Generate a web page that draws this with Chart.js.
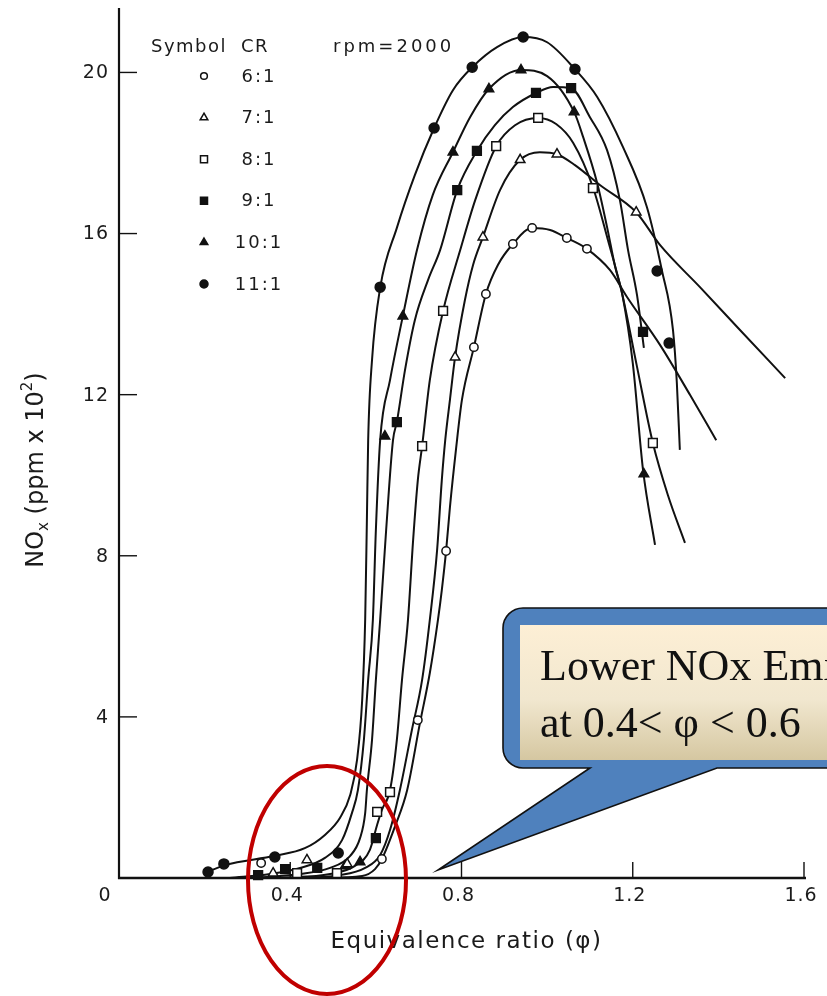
<!DOCTYPE html>
<html>
<head>
<meta charset="utf-8">
<script src="https://cdn.jsdelivr.net/npm/chart.js@4.4.1/dist/chart.umd.min.js"></script>
<style>
html,body{margin:0;padding:0;background:#fff;overflow:hidden}
canvas{display:block}
</style>
</head>
<body>
<canvas id="c" width="827" height="996"></canvas>
<script>
// ---------- axis ticks ----------
const phiTicks = [0, 0.4, 0.8, 1.2, 1.6];
const phiTickLabels = ['0', '0.4', '0.8', '1.2', '1.6'];
const noxTicks = [4, 8, 12, 16, 20];
const noxTickLabels = ['4', '8', '12', '16', '20'];
const compressionRatios = ['6:1', '7:1', '8:1', '9:1', '10:1', '11:1'];

// ---------- CR 6:1 (open circles) ----------
const cr6Phi = [0.332, 0.614, 0.698, 0.764, 0.829, 0.857, 0.920, 0.965, 1.046, 1.093];
const cr6Nox = [0.37, 0.47, 3.92, 8.12, 13.18, 14.50, 15.74, 16.14, 15.89, 15.62];
const cr6CurvePhi = [0.47, 0.568, 0.598, 0.614, 0.645, 0.673, 0.703, 0.726, 0.745, 0.754, 0.764, 0.773, 0.787, 0.801, 0.829, 0.857, 0.885, 0.920, 0.965, 1.007, 1.046, 1.093, 1.147, 1.187, 1.264, 1.334, 1.395];
const cr6CurveNox = [0.0, 0.05, 0.22, 0.47, 1.29, 2.18, 3.85, 5.09, 6.41, 7.15, 8.12, 9.21, 10.63, 11.87, 13.18, 14.50, 15.22, 15.74, 16.14, 16.09, 15.89, 15.62, 15.09, 14.42, 13.23, 11.99, 10.87];

// ---------- CR 7:1 (open triangles) ----------
const cr7Phi = [0.360, 0.439, 0.533, 0.785, 0.850, 0.937, 1.023, 1.208];
const cr7Nox = [0.12, 0.45, 0.35, 12.93, 15.91, 17.83, 17.97, 16.53];
const cr7CurvePhi = [0.423, 0.516, 0.575, 0.610, 0.633, 0.656, 0.684, 0.708, 0.726, 0.743, 0.754, 0.762, 0.773, 0.785, 0.808, 0.827, 0.850, 0.890, 0.937, 0.983, 1.023, 1.065, 1.124, 1.208, 1.264, 1.357, 1.451, 1.556];
const cr7CurveNox = [0, 0.07, 0.25, 0.57, 1.19, 2.18, 3.67, 4.92, 6.41, 8.14, 9.88, 10.87, 11.87, 12.93, 14.35, 15.22, 15.91, 17.08, 17.83, 18.02, 17.97, 17.70, 17.20, 16.53, 15.71, 14.67, 13.60, 12.41];

// ---------- CR 8:1 (open squares) ----------
const cr8Phi = [0.416, 0.509, 0.603, 0.633, 0.708, 0.757, 0.881, 0.979, 1.107, 1.247];
const cr8Nox = [0.12, 0.12, 1.64, 2.13, 10.72, 14.08, 18.17, 18.87, 17.13, 10.80];
const cr8CurvePhi = [0.376, 0.493, 0.551, 0.586, 0.603, 0.614, 0.633, 0.649, 0.661, 0.675, 0.687, 0.698, 0.708, 0.726, 0.757, 0.797, 0.832, 0.881, 0.925, 0.979, 1.021, 1.061, 1.107, 1.142, 1.175, 1.210, 1.247, 1.282, 1.322];
const cr8CurveNox = [0, 0.10, 0.30, 0.70, 1.32, 1.69, 2.18, 3.43, 4.92, 6.41, 8.39, 9.88, 10.72, 12.36, 14.08, 15.59, 16.83, 18.17, 18.69, 18.87, 18.72, 18.25, 17.15, 15.84, 14.52, 12.69, 10.80, 9.51, 8.32];

// ---------- CR 9:1 (filled squares) ----------
const cr9Phi = [0.325, 0.388, 0.463, 0.600, 0.649, 0.790, 0.836, 0.974, 1.056, 1.224];
const cr9Nox = [0.07, 0.22, 0.25, 0.99, 11.32, 17.08, 18.05, 19.49, 19.61, 13.56];
const cr9CurvePhi = [0.306, 0.423, 0.493, 0.540, 0.563, 0.575, 0.579, 0.591, 0.600, 0.610, 0.624, 0.640, 0.649, 0.668, 0.691, 0.722, 0.750, 0.790, 0.836, 0.878, 0.920, 0.974, 1.014, 1.056, 1.100, 1.140, 1.170, 1.189, 1.210, 1.226];
const cr9CurveNox = [0, 0.10, 0.25, 0.55, 0.99, 1.61, 2.18, 3.43, 4.92, 6.41, 8.64, 10.87, 11.32, 12.61, 13.85, 14.85, 15.59, 17.08, 18.05, 18.69, 19.14, 19.49, 19.64, 19.61, 18.89, 18.07, 16.83, 15.59, 14.47, 13.16];

// ---------- CR 10:1 (filled triangles) ----------
const cr10Phi = [0.528, 0.563, 0.621, 0.663, 0.780, 0.864, 0.939, 1.063, 1.226];
const cr10Nox = [0.30, 0.40, 10.97, 13.95, 18.02, 19.59, 20.06, 19.02, 10.03];
const cr10CurvePhi = [0.259, 0.353, 0.423, 0.481, 0.521, 0.544, 0.558, 0.572, 0.582, 0.593, 0.600, 0.610, 0.633, 0.663, 0.696, 0.733, 0.780, 0.820, 0.864, 0.939, 1.000, 1.063, 1.084, 1.117, 1.140, 1.159, 1.175, 1.200, 1.224, 1.252];
const cr10CurveNox = [0, 0.10, 0.25, 0.50, 0.94, 1.61, 2.18, 3.43, 4.92, 6.41, 8.64, 10.87, 12.36, 13.95, 15.59, 16.96, 18.02, 18.89, 19.59, 20.06, 19.91, 19.02, 18.40, 17.25, 16.16, 15.17, 14.52, 12.79, 10.13, 8.27];

// ---------- CR 11:1 (filled circles) ----------
const cr11Phi = [0.208, 0.245, 0.364, 0.512, 0.610, 0.736, 0.825, 0.944, 1.065, 1.257, 1.285];
const cr11Nox = [0.15, 0.35, 0.52, 0.62, 14.67, 18.62, 20.13, 20.88, 20.08, 15.07, 13.28];
const cr11CurvePhi = [0.199, 0.248, 0.364, 0.434, 0.481, 0.516, 0.540, 0.556, 0.568, 0.575, 0.579, 0.582, 0.591, 0.610, 0.649, 0.691, 0.736, 0.780, 0.825, 0.883, 0.944, 1.000, 1.065, 1.117, 1.177, 1.233, 1.268, 1.294, 1.303, 1.310];
const cr11CurveNox = [0.12, 0.32, 0.55, 0.74, 1.07, 1.49, 2.06, 2.93, 4.42, 6.41, 8.89, 10.87, 12.86, 14.65, 16.14, 17.45, 18.62, 19.56, 20.13, 20.63, 20.88, 20.75, 20.08, 19.39, 18.15, 16.66, 15.09, 13.60, 12.29, 10.63];

// ---------- build ----------
const zip = (xs, ys) => xs.map((v, i) => ({x: v, y: ys[i]}));
const seriesDefs = [
  {phi: cr6Phi, nox: cr6Nox, cPhi: cr6CurvePhi, cNox: cr6CurveNox, style: 'circle', filled: false, r: 4.2},
  {phi: cr7Phi, nox: cr7Nox, cPhi: cr7CurvePhi, cNox: cr7CurveNox, style: 'triangle', filled: false, r: 5.5},
  {phi: cr8Phi, nox: cr8Nox, cPhi: cr8CurvePhi, cNox: cr8CurveNox, style: 'rect', filled: false, r: 6.2},
  {phi: cr9Phi, nox: cr9Nox, cPhi: cr9CurvePhi, cNox: cr9CurveNox, style: 'rect', filled: true, r: 6.2},
  {phi: cr10Phi, nox: cr10Nox, cPhi: cr10CurvePhi, cNox: cr10CurveNox, style: 'triangle', filled: true, r: 5.5},
  {phi: cr11Phi, nox: cr11Nox, cPhi: cr11CurvePhi, cNox: cr11CurveNox, style: 'circle', filled: true, r: 5}
];

const datasets = [];
seriesDefs.forEach((s, i) => {
  datasets.push({
    type: 'line', label: 'CR ' + compressionRatios[i] + ' curve',
    data: zip(s.cPhi, s.cNox),
    borderColor: '#111', borderWidth: 2, pointRadius: 0, fill: false,
    cubicInterpolationMode: 'monotone', order: 2, clip: false
  });
  datasets.push({
    type: 'scatter', label: 'CR ' + compressionRatios[i],
    data: zip(s.phi, s.nox),
    pointStyle: s.style, pointRadius: s.r,
    backgroundColor: s.filled ? '#111' : '#fff',
    borderColor: '#111', borderWidth: 1.5, order: 1, clip: false
  });
});

const FONT = '"DejaVu Sans", "Liberation Sans", sans-serif';
const TXT = '#1b1b1b';

function spacedText(ctx, text, x, y, spacing) {
  if ('letterSpacing' in ctx) { ctx.letterSpacing = spacing + 'px'; ctx.fillText(text, x, y); ctx.letterSpacing = '0px'; }
  else ctx.fillText(text, x, y);
}

function drawMarker(ctx, style, filled, r, x, y) {
  ctx.save();
  ctx.fillStyle = filled ? '#111' : '#fff';
  ctx.strokeStyle = '#111';
  ctx.lineWidth = 1.5;
  ctx.beginPath();
  if (style === 'circle') {
    ctx.arc(x, y, r, 0, Math.PI * 2);
  } else if (style === 'rect') {
    const s = r * Math.SQRT1_2;
    ctx.rect(x - s, y - s, 2 * s, 2 * s);
  } else {
    ctx.moveTo(x, y - r);
    ctx.lineTo(x + r * 0.866, y + r * 0.5);
    ctx.lineTo(x - r * 0.866, y + r * 0.5);
    ctx.closePath();
  }
  ctx.fill();
  ctx.stroke();
  ctx.restore();
}

const decor = {
  id: 'decor',
  beforeDatasetsDraw(chart) {
    const {ctx, chartArea: a, scales: {x, y}} = chart;
    ctx.save();
    ctx.strokeStyle = '#111';
    ctx.lineCap = 'butt';
    // axes
    ctx.lineWidth = 2.2;
    ctx.beginPath();
    ctx.moveTo(a.left, a.top);
    ctx.lineTo(a.left, a.bottom + 1);
    ctx.stroke();
    ctx.lineWidth = 2.6;
    ctx.beginPath();
    ctx.moveTo(a.left - 1, a.bottom);
    ctx.lineTo(x.getPixelForValue(phiTicks[phiTicks.length - 1]) + 2, a.bottom);
    ctx.stroke();
    // inward ticks
    ctx.lineWidth = 1.4;
    noxTicks.forEach(v => {
      const py = y.getPixelForValue(v);
      ctx.beginPath(); ctx.moveTo(a.left, py); ctx.lineTo(a.left + 18, py); ctx.stroke();
    });
    phiTicks.forEach((v, i) => {
      if (i === 0) return;
      const px = x.getPixelForValue(v);
      ctx.beginPath(); ctx.moveTo(px, a.bottom); ctx.lineTo(px, a.bottom - 16); ctx.stroke();
    });
    // tick labels
    ctx.fillStyle = TXT;
    ctx.font = '19px ' + FONT;
    ctx.textBaseline = 'middle';
    ctx.textAlign = 'right';
    noxTicks.forEach((v, i) => {
      spacedText(ctx, noxTickLabels[i], a.left - 10, y.getPixelForValue(v) + 1, 1);
    });
    ctx.textAlign = 'center';
    phiTicks.forEach((v, i) => {
      const px = x.getPixelForValue(v) + (i === 0 ? -14 : -3);
      spacedText(ctx, phiTickLabels[i], px, a.bottom + 18, 1);
    });
    // x title
    ctx.font = '23px ' + FONT;
    spacedText(ctx, 'Equivalence ratio (\u03C6)', (a.left + a.right) / 2 + 5, a.bottom + 64, 1.5);
    // y title (rotated, with subscript / superscript)
    ctx.save();
    ctx.translate(35, 470);
    ctx.rotate(-Math.PI / 2);
    ctx.textAlign = 'left';
    ctx.textBaseline = 'alphabetic';
    const parts = [
      {t: 'NO', f: 24, dy: 0},
      {t: 'x', f: 15, dy: 5},
      {t: ' (ppm x 10', f: 24, dy: 0},
      {t: '2', f: 15, dy: -11},
      {t: ')', f: 24, dy: 0}
    ];
    let total = 0;
    parts.forEach(p => { ctx.font = p.f + 'px ' + FONT; p.w = ctx.measureText(p.t).width; total += p.w; });
    let cx = -total / 2;
    parts.forEach(p => { ctx.font = p.f + 'px ' + FONT; ctx.fillText(p.t, cx, 8 + p.dy); cx += p.w; });
    ctx.restore();
    // legend header
    ctx.textAlign = 'left';
    ctx.font = '18px ' + FONT;
    spacedText(ctx, 'Symbol', 151, 47, 1.5);
    spacedText(ctx, 'CR', 241, 47, 1.5);
    spacedText(ctx, 'rpm=2000', 333, 47, 3);
    // legend rows
    ctx.textAlign = 'center';
    ctx.font = '18px ' + FONT;
    seriesDefs.forEach((s, i) => {
      const ly = 76 + i * 41.6;
      drawMarker(ctx, s.style, s.filled, s.r * 0.8, 204, ly);
      ctx.fillStyle = TXT;
      spacedText(ctx, compressionRatios[i], 259, ly + 1, 2);
    });
    ctx.restore();
  },
  afterDraw(chart) {
    const {ctx} = chart;
    ctx.save();
    // callout
    const L = 503, T = 608, R = 850, B = 768, rad = 20;
    ctx.beginPath();
    ctx.moveTo(L + rad, T);
    ctx.lineTo(R, T);
    ctx.lineTo(R, B);
    ctx.lineTo(717, B);
    ctx.lineTo(438, 870);
    ctx.lineTo(590, B);
    ctx.lineTo(L + rad, B);
    ctx.arcTo(L, B, L, B - rad, rad);
    ctx.lineTo(L, T + rad);
    ctx.arcTo(L, T, L + rad, T, rad);
    ctx.closePath();
    ctx.fillStyle = '#4f81bd';
    ctx.fill();
    ctx.lineWidth = 1.6;
    ctx.strokeStyle = '#111';
    ctx.stroke();
    const g = ctx.createLinearGradient(0, 625, 0, 760);
    g.addColorStop(0, '#fdefd5');
    g.addColorStop(0.55, '#f1e7cf');
    g.addColorStop(1, '#d5c7a1');
    ctx.fillStyle = g;
    ctx.fillRect(520, 625, 330, 135);
    ctx.fillStyle = '#111';
    ctx.font = '44px "Liberation Serif", "Times New Roman", serif';
    ctx.textAlign = 'left';
    ctx.textBaseline = 'alphabetic';
    ctx.fillText('Lower NOx Emissions', 540, 680);
    ctx.fillText('at 0.4< \u03C6 < 0.6', 540, 737);
    // red ellipse
    ctx.beginPath();
    ctx.ellipse(327, 880, 79, 114, 0, 0, Math.PI * 2);
    ctx.strokeStyle = '#c00000';
    ctx.lineWidth = 4;
    ctx.stroke();
    ctx.restore();
  }
};

new Chart(document.getElementById('c'), {
  type: 'scatter',
  data: {datasets},
  options: {
    responsive: false,
    devicePixelRatio: 1,
    animation: false,
    layout: {padding: {left: 119, right: 23, top: 8, bottom: 118}},
    scales: {
      x: {type: 'linear', min: phiTicks[0], max: phiTicks[phiTicks.length - 1], display: false},
      y: {type: 'linear', min: 0, max: 21.6, display: false}
    },
    plugins: {legend: {display: false}, tooltip: {enabled: false}}
  },
  plugins: [decor]
});
</script>
</body>
</html>
